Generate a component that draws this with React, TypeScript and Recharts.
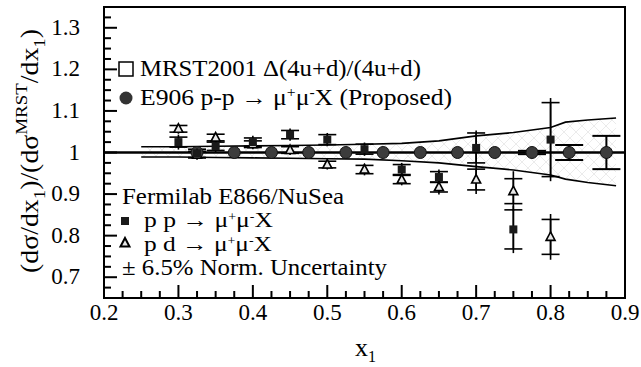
import { ComposedChart, XAxis, YAxis, Line, Area, Scatter, ErrorBar, ReferenceLine, ReferenceArea } from 'recharts';

// MRST2001 band (upper / lower edge)
const bandX = [0.25, 0.3, 0.35, 0.4, 0.45, 0.5, 0.55, 0.6, 0.65, 0.7, 0.75, 0.8, 0.82, 0.85, 0.888];
const bandHi = [1.014, 1.014, 1.015, 1.016, 1.017, 1.018, 1.02, 1.022, 1.028, 1.04, 1.048, 1.06, 1.073, 1.078, 1.083];
const bandLo = [0.989, 0.989, 0.988, 0.987, 0.986, 0.985, 0.984, 0.98, 0.975, 0.966, 0.958, 0.946, 0.936, 0.928, 0.92];

// E906 proposed
const e906X = [0.325, 0.375, 0.425, 0.475, 0.525, 0.575, 0.625, 0.675, 0.725, 0.775, 0.825, 0.875];
const e906Y = [1, 1, 1, 1, 1, 1, 1, 1, 1, 1, 1, 1];
const e906Err = [0, 0, 0, 0, 0, 0, 0, 0, 0, 0.004, 0.018, 0.04];

// E866 p p
const ppX = [0.3, 0.325, 0.35, 0.4, 0.45, 0.5, 0.55, 0.6, 0.65, 0.7, 0.75, 0.8];
const ppY = [1.025, 0.998, 1.015, 1.025, 1.043, 1.031, 1.008, 0.959, 0.941, 1.011, 0.815, 1.031];
const ppStat = [0.012, 0.01, 0.01, 0.01, 0.01, 0.012, 0.012, 0.012, 0.013, 0.036, 0.047, 0.089];
const ppTot = [0.018, 0.015, 0.015, 0.015, 0.015, 0.016, 0.016, 0.016, 0.018, 0.042, 0.057, 0.1];

// E866 p d
const pdX = [0.3, 0.325, 0.35, 0.4, 0.45, 0.5, 0.55, 0.6, 0.65, 0.7, 0.75, 0.8];
const pdY = [1.057, 0.995, 1.036, 1.02, 1.006, 0.971, 0.959, 0.935, 0.917, 0.935, 0.907, 0.797];
const pdStat = [0.008, 0.008, 0.008, 0.008, 0.008, 0.008, 0.01, 0.01, 0.012, 0.025, 0.03, 0.042];
const pdTot = [0.012, 0.012, 0.012, 0.012, 0.012, 0.012, 0.014, 0.014, 0.018, 0.035, 0.048, 0.055];

const xTicks = [0.2, 0.225, 0.25, 0.275, 0.3, 0.325, 0.35, 0.375, 0.4, 0.425, 0.45, 0.475, 0.5, 0.525, 0.55, 0.575,
  0.6, 0.625, 0.65, 0.675, 0.7, 0.725, 0.75, 0.775, 0.8, 0.825, 0.85, 0.875, 0.9];
const yTicks = [0.675, 0.7, 0.725, 0.75, 0.775, 0.8, 0.825, 0.85, 0.875, 0.9, 0.925, 0.95, 0.975, 1, 1.025, 1.05,
  1.075, 1.1, 1.125, 1.15, 1.175, 1.2, 1.225, 1.25, 1.275, 1.3, 1.325];

const bandData = bandX.map((x, i) => ({ x, hi: bandHi[i], lo: bandLo[i] }));
const e906Data = e906X.map((x, i) => ({ x, y: e906Y[i], err: e906Err[i] }));
const ppData = ppX.map((x, i) => ({ x, y: ppY[i], stat: ppStat[i], tot: ppTot[i] }));
const pdData = pdX.map((x, i) => ({ x, y: pdY[i], stat: pdStat[i], tot: pdTot[i] }));

const FONT = "'Liberation Serif', 'DejaVu Serif', serif";
const txt = { fontFamily: FONT, fill: '#000' };
const isMajor = (v: number) => Math.abs(v * 10 - Math.round(v * 10)) < 1e-6;
const fmt = (v: number) => (Math.abs(v - 1) < 1e-6 ? '1' : v.toFixed(1));

const XTick = (props: any) => {
  const { x, y, payload } = props;
  const major = isMajor(payload.value);
  return (
    <g>
      <line x1={x} x2={x} y1={y} y2={y - (major ? 13 : 7)} stroke="#000" strokeWidth={2} />
      {major && (
        <text x={x} y={y + 22} textAnchor="middle" fontSize={23} style={txt}>
          {fmt(payload.value)}
        </text>
      )}
    </g>
  );
};

const YTick = (props: any) => {
  const { x, y, payload } = props;
  const major = isMajor(payload.value);
  return (
    <g>
      <line x1={x} x2={x + (major ? 13 : 7)} y1={y} y2={y} stroke="#000" strokeWidth={2} />
      {major && (
        <text x={x - 24} y={y + 7} textAnchor="end" fontSize={23} style={txt}>
          {fmt(payload.value)}
        </text>
      )}
    </g>
  );
};

const Square = (props: any) => (
  <rect x={props.cx - 4} y={props.cy - 4} width={8} height={8} fill="#1a1a1a" />
);
const Triangle = (props: any) => (
  <polygon
    points={`${props.cx},${props.cy - 5} ${props.cx + 4.5},${props.cy + 3.5} ${props.cx - 4.5},${props.cy + 3.5}`}
    fill="#e8e8e8" stroke="#000" strokeWidth={1.6}
  />
);
const Dot = (props: any) => (
  <circle cx={props.cx} cy={props.cy} r={6} fill="#3c3c3c" stroke="#111" strokeWidth={1} />
);

export default function App(): JSX.Element {
  return (
    <div style={{ position: 'absolute', left: 0, top: 0, background: '#fff' }}>
      <ComposedChart width={641} height={367} data={bandData} margin={{ top: 7, right: 16, bottom: 0, left: 0 }}
        style={{ fontFamily: FONT }}>
        <defs>
          <pattern id="hatch" width="12" height="12" patternUnits="userSpaceOnUse">
            <path d="M0,0 L12,12 M12,0 L0,12" stroke="#e6e6e6" strokeWidth={0.8} />
          </pattern>
        </defs>
        <XAxis dataKey="x" type="number" domain={[0.2, 0.9]} ticks={xTicks} interval={0} tick={<XTick />}
          tickLine={false} axisLine={false} tickSize={0} tickMargin={0} height={69} allowDataOverflow />
        <YAxis type="number" domain={[0.65, 1.35]} ticks={yTicks} interval={0} tick={<YTick />}
          tickLine={false} axisLine={false} tickSize={0} tickMargin={0} width={104} allowDataOverflow />
        <Area dataKey={(d: any) => [d.lo, d.hi]} type="linear" fill="url(#hatch)" fillOpacity={1} stroke="none"
          isAnimationActive={false} />
        <Line dataKey="hi" type="linear" stroke="#000" strokeWidth={1.6} dot={false} isAnimationActive={false} />
        <Line dataKey="lo" type="linear" stroke="#000" strokeWidth={1.6} dot={false} isAnimationActive={false} />
        <Scatter data={e906Data} dataKey="y" shape={<Dot />} isAnimationActive={false}>
          <ErrorBar dataKey="err" direction="y" width={14} stroke="#000" strokeWidth={2} />
        </Scatter>
        <ReferenceLine y={1} stroke="#000" strokeWidth={2.5} />
        <Scatter data={pdData} dataKey="y" shape={<Triangle />} isAnimationActive={false}>
          <ErrorBar dataKey="tot" direction="y" width={0} stroke="#000" strokeWidth={1.6} />
          <ErrorBar dataKey="stat" direction="y" width={9} stroke="#000" strokeWidth={1.6} />
        </Scatter>
        <Scatter data={ppData} dataKey="y" shape={<Square />} isAnimationActive={false}>
          <ErrorBar dataKey="tot" direction="y" width={0} stroke="#000" strokeWidth={1.6} />
          <ErrorBar dataKey="stat" direction="y" width={9} stroke="#000" strokeWidth={1.6} />
        </Scatter>
        <ReferenceArea x1={0.2} x2={0.9} y1={0.65} y2={1.35} fill="none" stroke="#000" strokeWidth={2} />

        {/* legend, upper block */}
        <rect x={119} y={62} width={14} height={14} fill="#fff" stroke="#000" strokeWidth={1.5} />
        <text x={140} y={76} fontSize={23} style={txt} textLength={281} lengthAdjust="spacingAndGlyphs">
          MRST2001 Δ(4u+d)/(4u+d)
        </text>
        <circle cx={126} cy={98} r={6.5} fill="#333" />
        <text x={140} y={105} fontSize={23} style={txt} textLength={312} lengthAdjust="spacingAndGlyphs">
          <tspan>E906 p-p → μ</tspan><tspan dy={-8} fontSize={14}>+</tspan><tspan dy={8}>μ</tspan>
          <tspan dy={-8} fontSize={14}>-</tspan><tspan dy={8}>X (Proposed)</tspan>
        </text>

        {/* legend, lower block */}
        <text x={122} y={204} fontSize={23} style={txt} textLength={222} lengthAdjust="spacingAndGlyphs">
          Fermilab E866/NuSea
        </text>
        <rect x={121} y={217} width={8} height={8} fill="#1a1a1a" />
        <text x={144} y={227} fontSize={22} style={txt} textLength={129} lengthAdjust="spacingAndGlyphs">
          <tspan>p p → μ</tspan><tspan dy={-6} fontSize={12}>+</tspan><tspan dy={6}>μ</tspan>
          <tspan dy={-6} fontSize={12}>-</tspan><tspan dy={6}>X</tspan>
        </text>
        <polygon points="125,238 129.5,246.5 120.5,246.5" fill="#e8e8e8" stroke="#000" strokeWidth={2} />
        <text x={144} y={251} fontSize={22} style={txt} textLength={128} lengthAdjust="spacingAndGlyphs">
          <tspan>p d → μ</tspan><tspan dy={-6} fontSize={12}>+</tspan><tspan dy={6}>μ</tspan>
          <tspan dy={-6} fontSize={12}>-</tspan><tspan dy={6}>X</tspan>
        </text>
        <text x={122} y={275} fontSize={23} style={txt} textLength={265} lengthAdjust="spacingAndGlyphs">
          ± 6.5% Norm. Uncertainty
        </text>

        {/* axis titles */}
        <text x={355} y={356} fontSize={26} style={txt}>
          <tspan>x</tspan><tspan dy={6} fontSize={16}>1</tspan>
        </text>
        <text transform="translate(38,151) rotate(-90)" textAnchor="middle" fontSize={25} style={txt}
          textLength={244} lengthAdjust="spacingAndGlyphs">
          <tspan>(dσ/dx</tspan><tspan dy={7} fontSize={17}>1</tspan>
          <tspan dy={-7}>)/(dσ</tspan><tspan dy={-11} fontSize={17}>MRST</tspan>
          <tspan dy={11}>/dx</tspan><tspan dy={7} fontSize={17}>1</tspan><tspan dy={-7}>)</tspan>
        </text>
      </ComposedChart>
    </div>
  );
}
